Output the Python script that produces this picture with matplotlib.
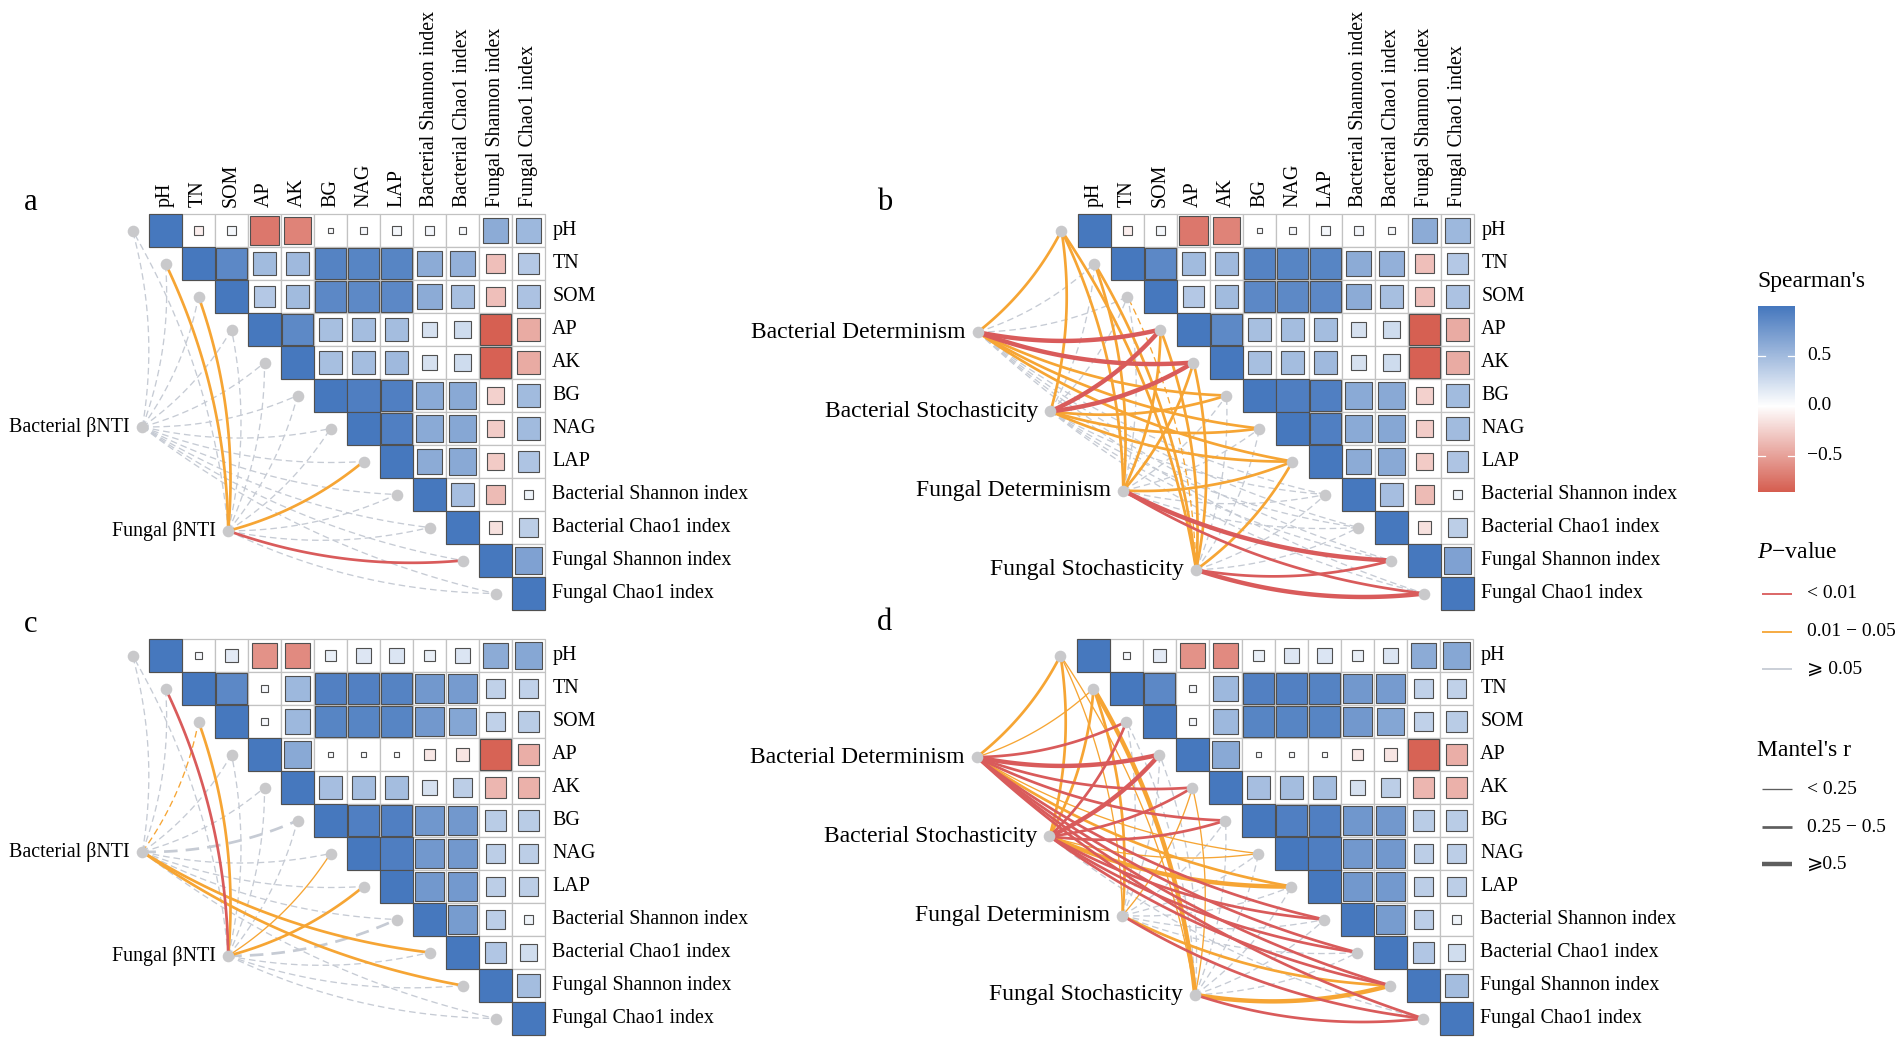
import numpy as np
import matplotlib
matplotlib.use("Agg")
import matplotlib.pyplot as plt
from matplotlib.patches import Rectangle
from matplotlib.colors import LinearSegmentedColormap, Normalize

plt.rcParams['font.family'] = ['Liberation Serif', 'DejaVu Serif', 'DejaVu Sans']
plt.rcParams['mathtext.fontset'] = 'custom'
plt.rcParams['mathtext.rm'] = 'Liberation Serif'
plt.rcParams['mathtext.it'] = 'Liberation Serif:italic'

# ---------------- data ----------------
variables = ["pH", "TN", "SOM", "AP", "AK", "BG", "NAG", "LAP",
             "Bacterial Shannon index", "Bacterial Chao1 index",
             "Fungal Shannon index", "Fungal Chao1 index"]

# Spearman's r, upper triangle (row i, columns i+1 ... end); diagonal = 1
spearman_ab = [
    [-0.09, 0.06, -0.72, -0.66, 0.03, 0.05, 0.06, 0.07, 0.04, 0.62, 0.53],
    [0.88, 0.50, 0.52, 0.92, 0.90, 0.90, 0.62, 0.58, -0.34, 0.40],
    [0.40, 0.50, 0.88, 0.87, 0.88, 0.62, 0.47, -0.34, 0.45],
    [0.87, 0.47, 0.49, 0.49, 0.22, 0.26, -0.85, -0.45],
    [0.47, 0.49, 0.52, 0.22, 0.26, -0.84, -0.45],
    [0.95, 0.94, 0.63, 0.64, -0.25, 0.50],
    [0.94, 0.63, 0.65, -0.27, 0.50],
    [0.62, 0.64, -0.28, 0.43],
    [0.48, -0.36, 0.09],
    [-0.16, 0.36],
    [0.69],
    [],
]
spearman_cd = [
    [0.05, 0.15, -0.58, -0.62, 0.12, 0.18, 0.19, 0.12, 0.19, 0.62, 0.65],
    [0.88, 0.05, 0.53, 0.93, 0.93, 0.92, 0.76, 0.74, 0.34, 0.34],
    [0.05, 0.53, 0.90, 0.90, 0.90, 0.76, 0.66, 0.34, 0.38],
    [0.64, 0.02, 0.02, 0.015, -0.12, -0.14, -0.83, -0.43],
    [0.48, 0.49, 0.49, 0.22, 0.36, -0.39, -0.42],
    [0.94, 0.94, 0.77, 0.76, 0.38, 0.38],
    [0.95, 0.76, 0.76, 0.36, 0.36],
    [0.76, 0.75, 0.36, 0.36],
    [0.73, 0.36, 0.09],
    [0.42, 0.25],
    [0.49],
    [],
]

# Mantel test categories for every source -> variable link
# p class: 0 = <0.01, 1 = 0.01-0.05, 2 = >=0.05 ; r class: 0 = <0.25, 1 = 0.25-0.5, 2 = >=0.5
sources_ac = ["Bacterial βNTI", "Fungal βNTI"]
sources_bd = ["Bacterial Determinism", "Bacterial Stochasticity",
              "Fungal Determinism", "Fungal Stochasticity"]

mantel_p_a = [[2, 2, 2, 2, 2, 2, 2, 2, 2, 2, 2, 2],
              [2, 1, 1, 2, 2, 2, 2, 1, 2, 2, 0, 2]]
mantel_r_a = [[0, 0, 0, 0, 0, 0, 0, 0, 0, 0, 0, 0],
              [0, 1, 1, 0, 0, 0, 0, 1, 0, 0, 1, 0]]

mantel_p_c = [[2, 2, 1, 2, 2, 2, 2, 2, 2, 1, 1, 2],
              [2, 0, 1, 2, 2, 2, 1, 1, 2, 2, 2, 2]]
mantel_r_c = [[0, 0, 0, 0, 0, 1, 0, 0, 0, 1, 1, 0],
              [0, 1, 1, 0, 0, 0, 0, 1, 1, 0, 0, 0]]

mantel_p_b = [[1, 2, 2, 0, 0, 1, 1, 1, 2, 2, 2, 2],
              [1, 2, 2, 0, 0, 1, 1, 1, 2, 2, 2, 2],
              [1, 1, 2, 1, 1, 2, 2, 1, 2, 2, 0, 0],
              [1, 1, 1, 1, 1, 2, 2, 1, 2, 2, 0, 0]]
mantel_r_b = [[1, 0, 0, 2, 2, 1, 1, 1, 0, 0, 0, 0],
              [1, 0, 0, 2, 2, 1, 1, 1, 0, 0, 0, 0],
              [1, 1, 0, 1, 1, 0, 0, 1, 0, 0, 2, 1],
              [1, 1, 0, 1, 1, 0, 0, 1, 0, 0, 1, 2]]

mantel_p_d = [[1, 1, 0, 0, 0, 0, 1, 1, 0, 0, 0, 0],
              [1, 1, 0, 0, 0, 0, 1, 1, 0, 0, 0, 2],
              [1, 1, 2, 2, 1, 2, 2, 2, 2, 2, 1, 0],
              [1, 1, 2, 2, 1, 2, 2, 2, 2, 2, 1, 0]]
mantel_r_d = [[1, 0, 1, 2, 1, 1, 0, 1, 1, 1, 1, 1],
              [1, 1, 1, 2, 1, 1, 0, 2, 1, 1, 1, 0],
              [0, 1, 0, 0, 0, 0, 0, 0, 0, 0, 1, 1],
              [0, 2, 0, 0, 0, 0, 0, 0, 0, 0, 2, 1]]

# significant links drawn dashed (source index, variable index)
dashed_sig_a = []
dashed_sig_b = [(3, 2)]
dashed_sig_c = [(0, 2)]
dashed_sig_d = []

p_labels = ["< 0.01", "0.01 − 0.05", "⩾ 0.05"]
r_labels = ["< 0.25", "0.25 − 0.5", "⩾0.5"]
cbar_ticks = [-0.5, 0.0, 0.5]
cbar_range = (-0.86, 1.0)

# ---------------- style ----------------
W, H, DPI = 1902, 1044, 100
CELL = 33.0
RED, ORANGE, GRAY = "#D95B5B", "#F6A534", "#C6CBD4"
P_COLORS = [RED, ORANGE, GRAY]
R_WIDTHS = [0.95, 1.95, 3.2]
NODE_C = "#C9C9CB"
GRID_C = "#C2C2C2"
EDGE_C = "#505050"
cmap = LinearSegmentedColormap.from_list(
    "sp", [(0.0, "#CF4434"), (0.5, "#FFFFFF"), (1.0, "#4678BE")])
norm = Normalize(-1, 1)

fig = plt.figure(figsize=(W / DPI, H / DPI), dpi=DPI)


def curve_pts(p0, p1, k=0.11, n=80):
    p0 = np.asarray(p0, float)
    p1 = np.asarray(p1, float)
    d = p1 - p0
    L = np.hypot(d[0], d[1])
    nrm = np.array([-d[1], d[0]]) / L
    c = (p0 + p1) / 2 + nrm * k * L
    t = np.linspace(0, 1, n)[:, None]
    pts = (1 - t) ** 2 * p0 + 2 * (1 - t) * t * c + t ** 2 * p1
    return pts[:, 0], pts[:, 1]


def draw_panel(left_px, top_px, rvals, sources, src_start, src_end,
               mp, mr, dashed_sig, src_fs, col_labels):
    ax = fig.add_axes([0, 0, 1, 1])
    ax.set_xlim(-left_px / CELL, (W - left_px) / CELL)
    ax.set_ylim((H - top_px) / CELL, -top_px / CELL)
    ax.axis("off")
    ax.patch.set_alpha(0)
    n = len(variables)
    # grid cells
    for i in range(n):
        for j in range(i, n):
            ax.add_patch(Rectangle((j, i), 1, 1, fc="white", ec=GRID_C,
                                   lw=0.9, zorder=1))
    # squares
    for i in range(n):
        row = [1.0] + list(rvals[i])
        for k, r in enumerate(row):
            j = i + k
            s = np.sqrt(abs(r))
            ax.add_patch(Rectangle((j + 0.5 - s / 2, i + 0.5 - s / 2), s, s,
                                   fc=cmap(norm(r)), ec=EDGE_C, lw=0.8,
                                   zorder=2))
    # labels
    for j, name in enumerate(variables):
        if col_labels:
            ax.text(j + 0.5, -0.22, name, rotation=90, ha="center",
                    va="bottom", fontsize=14.4)
        ax.text(n + 0.22, j + 0.5, name, ha="left", va="center",
                fontsize=14.4)
    # nodes
    tx = np.arange(n) - 0.5
    ty = np.arange(n) + 0.5
    ns = len(sources)
    sx = np.linspace(src_start[0], src_end[0], ns)
    sy = np.linspace(src_start[1], src_end[1], ns)
    # links
    order = []
    for si in range(ns):
        for ti in range(n):
            order.append((mp[si][ti], si, ti))
    order.sort(key=lambda x: -x[0])
    for p, si, ti in order:
        r = mr[si][ti]
        xs, ys = curve_pts((sx[si], sy[si]), (tx[ti], ty[ti]))
        ls = (0, (5, 3)) if (p == 2 or (si, ti) in dashed_sig) else "-"
        ax.plot(xs, ys, color=P_COLORS[p], lw=R_WIDTHS[r], ls=ls,
                solid_capstyle="butt", dash_capstyle="butt", zorder=3)
    ax.scatter(tx, ty, s=70, color=NODE_C, zorder=4, lw=0)
    ax.scatter(sx, sy, s=70, color=NODE_C, zorder=4, lw=0)
    for si, name in enumerate(sources):
        ax.text(sx[si] - 0.38, sy[si], name, ha="right", va="center",
                fontsize=src_fs)
    return ax


draw_panel(149, 214, spearman_ab, sources_ac, (-0.2, 6.45), (2.4, 9.6),
           mantel_p_a, mantel_r_a, dashed_sig_a, 14.4, True)
draw_panel(1078, 214, spearman_ab, sources_bd, (-3.04, 3.58), (3.58, 10.78),
           mantel_p_b, mantel_r_b, dashed_sig_b, 17, True)
draw_panel(149, 639, spearman_cd, sources_ac, (-0.2, 6.45), (2.4, 9.6),
           mantel_p_c, mantel_r_c, dashed_sig_c, 14.4, False)
draw_panel(1077, 639, spearman_cd, sources_bd, (-3.04, 3.58), (3.58, 10.78),
           mantel_p_d, mantel_r_d, dashed_sig_d, 17, False)

# ---------------- legends & panel letters ----------------
lg = fig.add_axes([0, 0, 1, 1])
lg.set_xlim(0, W)
lg.set_ylim(H, 0)
lg.axis("off")
lg.patch.set_alpha(0)

for letter, (x, y) in zip("abcd", [(31, 203), (885, 203), (31, 625), (885, 623)]):
    lg.text(x, y, letter, ha="center", va="center", fontsize=22)

lg.text(1757, 282, "Spearman's", ha="left", va="center", fontsize=17)
lg.text(1757, 553, "$P$−value", ha="left", va="center", fontsize=17)
lg.text(1757, 750, "Mantel's r", ha="left", va="center", fontsize=17)

for k, (lab, y) in enumerate(zip(p_labels, [594, 632, 669])):
    lg.plot([1762, 1792], [y, y], color=P_COLORS[k], lw=1.3, solid_capstyle="butt")
    lg.text(1807, y, lab, ha="left", va="center", fontsize=14)
for k, (lab, y) in enumerate(zip(r_labels, [789, 827, 864])):
    lg.plot([1762, 1792], [y, y], color="#5E5E5E", lw=R_WIDTHS[k], solid_capstyle="butt")
    lg.text(1807, y, lab, ha="left", va="center", fontsize=14)

# colorbar
cb_top, cb_bot, cb_left, cb_w = 306, 492, 1758, 37
cax = fig.add_axes([cb_left / W, (H - cb_bot) / H, cb_w / W, (cb_bot - cb_top) / H])
vals = np.linspace(cbar_range[0], cbar_range[1], 300)[:, None]
cax.imshow(vals, aspect="auto", origin="lower", cmap=cmap, norm=norm,
           extent=[0, 1, cbar_range[0], cbar_range[1]])
cax.set_xlim(0, 1)
cax.set_ylim(*cbar_range)
cax.axis("off")
for t in cbar_ticks:
    cax.plot([0, 0.2], [t, t], color="white", lw=0.9)
    cax.plot([0.8, 1], [t, t], color="white", lw=0.9)
    lab = ("−%.1f" % abs(t)) if t < 0 else "%.1f" % t
    cax.text(1.33, t, lab, transform=cax.get_yaxis_transform(), ha="left",
             va="center", fontsize=14)

fig.savefig("out.png", dpi=DPI)
